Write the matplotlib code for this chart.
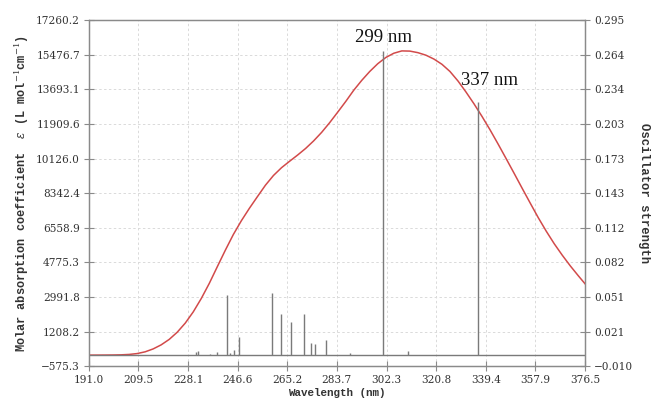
import matplotlib
matplotlib.use("Agg")
import matplotlib.pyplot as plt

plt.rcParams['mathtext.fontset'] = 'dejavuserif'

# 吸收光谱曲线
wl = [191.0, 194, 197, 200, 203, 206, 209, 212, 215, 218,
      221, 224, 227, 230, 233, 236, 239, 242, 245, 248,
      251, 254, 257, 260, 263, 266, 269, 272, 275, 278,
      281, 284, 287, 290, 293, 296, 299, 302, 305, 308,
      311, 314, 317, 320, 323, 326, 329, 332, 335, 338,
      341, 344, 347, 350, 353, 356, 359, 362, 365, 368,
      371, 374, 376.5]
eps = [0, 1, 3, 7, 15, 35, 80, 170, 320, 530,
       810, 1180, 1650, 2230, 2920, 3700, 4560, 5410, 6220, 6930,
       7570, 8170, 8760, 9260, 9660, 9990, 10310, 10650, 11040, 11480,
       11980, 12520, 13070, 13650, 14160, 14620, 15020, 15340, 15560, 15680,
       15670, 15590, 15460, 15260, 14990, 14620, 14130, 13560, 12950, 12300,
       11610, 10880, 10130, 9370, 8600, 7840, 7090, 6390, 5740, 5150,
       4600, 4090, 3680]

# 振子强度 (竖线)
stick_wl = [230.9, 231.8, 236.4, 238.9, 242.8, 243.9, 245.2, 247.0, 259.3, 262.7,
            266.7, 271.4, 274.2, 275.5, 279.8, 288.8, 300.9, 310.3, 336.3]
stick_f = [0.0024, 0.0038, 0.0008, 0.0029, 0.0529, 0.0020, 0.0044, 0.0161, 0.0544, 0.0361,
           0.0291, 0.0361, 0.0103, 0.0097, 0.0135, 0.0020, 0.268, 0.0035, 0.223]

xticks = [191.0, 209.5, 228.1, 246.6, 265.2, 283.7, 302.3, 320.8, 339.4, 357.9, 376.5]
xlabels = ['191.0', '209.5', '228.1', '246.6', '265.2', '283.7', '302.3', '320.8', '339.4', '357.9', '376.5']
yticks = [-575.3, 1208.2, 2991.8, 4775.3, 6558.9, 8342.4, 10126.0, 11909.6, 13693.1, 15476.7, 17260.2]
ylabels = ['\u2212575.3', '1208.2', '2991.8', '4775.3', '6558.9', '8342.4', '10126.0', '11909.6', '13693.1', '15476.7', '17260.2']
fticks = [-0.0100, 0.0205, 0.0510, 0.0815, 0.1120, 0.1425, 0.1730, 0.2035, 0.2340, 0.2645, 0.2950]
flabels = ['\u22120.010', '0.021', '0.051', '0.082', '0.112', '0.143', '0.173', '0.203', '0.234', '0.264', '0.295']

fig = plt.figure(figsize=(6.51, 4.05), dpi=100)
ax = fig.add_axes([0.1367, 0.0956, 0.7619, 0.8544])
ax2 = ax.twinx()

spine_c = '#8a8a8a'
tick_font = dict(family='DejaVu Serif', size=7.6)

ax.plot(wl, eps, color='#d24a4a', lw=1.1, zorder=3)
ax.set_xlim(191.0, 376.5)
ax.set_ylim(-575.3, 17260.2)
ax.set_xticks(xticks)
ax.set_xticklabels(xlabels, **tick_font)
ax.set_yticks(yticks)
ax.set_yticklabels(ylabels, **tick_font)
ax.grid(True, color='#dadada', ls=(0, (2.5, 2.5)), lw=0.7)
ax.set_axisbelow(True)

ax2.vlines(stick_wl, 0, stick_f, color='#7a7a7a', lw=1.0)
ax2.axhline(0, color='#7a7a7a', lw=1.0)
ax2.set_ylim(-0.010, 0.295)
ax2.set_yticks(fticks)
ax2.set_yticklabels(flabels, **tick_font)

for a in (ax, ax2):
    for s in a.spines.values():
        s.set_color(spine_c)
        s.set_linewidth(0.9)
    a.tick_params(direction='inout', length=7, width=0.8, color=spine_c,
                  labelcolor='#333333', pad=3)

ax.set_xlabel('Wavelength (nm)', family='Liberation Mono', fontweight='bold',
              fontsize=7.8, color='#333333', labelpad=2)
ax.set_ylabel(r'Molar absorption coefficient  $\varepsilon$ (L mol$^{-1}$cm$^{-1}$)',
              family='Liberation Mono', fontweight='bold', fontsize=8.6,
              color='#333333', labelpad=4)
ax2.set_ylabel('Oscillator strength', family='Liberation Mono', fontweight='bold',
               fontsize=8.8, color='#333333', rotation=-90, labelpad=12)

ax.text(301.1, 16349, '299 nm', family='Liberation Serif', fontsize=13.5,
        ha='center', va='center', color='#111111')
ax.text(340.7, 14132, '337 nm', family='Liberation Serif', fontsize=13.5,
        ha='center', va='center', color='#111111')

fig.savefig('out.png', dpi=100)
